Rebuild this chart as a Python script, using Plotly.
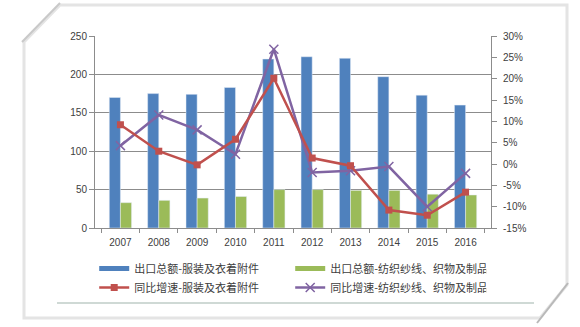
import plotly.graph_objects as go

years = ["2007", "2008", "2009", "2010", "2011", "2012", "2013", "2014", "2015", "2016"]
export_apparel = [170, 175, 174, 183, 220, 223, 221, 197, 173, 160]
export_textile = [33, 36, 39, 41, 50, 50, 49, 49, 44, 43]
growth_apparel = [9.2, 3.0, -0.2, 5.8, 20.1, 1.4, -0.4, -10.8, -12.0, -6.6]
growth_textile = [4.3, 11.5, 8.0, 2.3, 26.9, -2.0, -1.6, -0.6, -10.0, -2.2]

names = ["出口总额-服装及衣着附件", "出口总额-纺织纱线、织物及制品",
         "同比增速-服装及衣着附件", "同比增速-纺织纱线、织物及制品"]
left_ticks = [0, 50, 100, 150, 200, 250]
right_ticks = [-15, -10, -5, 0, 5, 10, 15, 20, 25, 30]
right_ticktext = [f"{v}%" for v in right_ticks]

BLUE = "#4F81BD"
GREEN = "#9BBB59"
RED = "#C0504D"
PURPLE = "#8064A2"
AXIS = "#8c8c8c"
TXT = "#404040"

W, H = 580, 327
L, R, T, B = 95, 89, 36, 99
PW, PH = W - L - R, H - T - B


def px(x):
    return (x - L) / PW


def py(y):
    return (H - B - y) / PH


fig = go.Figure()
fig.add_bar(x=years, y=export_apparel, marker_color=BLUE, name=names[0], showlegend=False)
fig.add_bar(x=years, y=export_textile, marker_color=GREEN, name=names[1], showlegend=False)
fig.add_scatter(x=years, y=growth_textile, yaxis="y2", mode="lines+markers", name=names[3],
                line=dict(color=PURPLE, width=2.5), legendrank=4,
                marker=dict(symbol="x-thin", size=9, line=dict(color=PURPLE, width=1.5), color=PURPLE))
fig.add_scatter(x=years, y=growth_apparel, yaxis="y2", mode="lines+markers", name=names[2],
                line=dict(color=RED, width=2.5), legendrank=3,
                marker=dict(symbol="square", size=7, color=RED))
# legend entries for bars (wide swatches)
fig.add_scatter(x=[None], y=[None], mode="lines", name=names[0], legendrank=1,
                line=dict(color=BLUE, width=5))
fig.add_scatter(x=[None], y=[None], mode="lines", name=names[1], legendrank=2,
                line=dict(color=GREEN, width=5))

shapes = [
    # card
    dict(type="path", xref="paper", yref="paper",
         path=f"M {px(60)},{py(5)} L {px(567)},{py(5)} L {px(567)},{py(285)} L {px(540)},{py(318)} "
              f"L {px(24)},{py(318)} L {px(24)},{py(42)} Z",
         line=dict(color="#e4e4e4", width=3), fillcolor="rgba(0,0,0,0)", layer="below"),
    dict(type="line", xref="paper", yref="paper", x0=px(22), y0=py(42), x1=px(60), y1=py(3),
         line=dict(color="#c9c9c9", width=2)),
    dict(type="line", xref="paper", yref="paper", x0=px(568), y0=py(283), x1=px(537), y1=py(323),
         line=dict(color="#b9b9b9", width=2)),
    # line under legend
    dict(type="line", xref="paper", yref="paper", x0=px(57), y0=py(303), x1=px(534), y1=py(303),
         line=dict(color="#9fb3ab", width=1)),
]

fig.update_layout(
    width=W, height=H,
    margin=dict(l=L, r=R, t=T, b=B, autoexpand=False),
    paper_bgcolor="white", plot_bgcolor="white",
    font=dict(family="Liberation Sans, Arial, sans-serif", size=10, color=TXT),
    barmode="group", bargap=0.42, bargroupgap=0,
    shapes=shapes,
    xaxis=dict(type="category", showgrid=False, showline=True, linecolor=AXIS, linewidth=1,
               ticks="outside", tickson="boundaries", ticklen=4, tickcolor=AXIS,
               ticklabelstandoff=5, tickfont=dict(size=10, color=TXT)),
    yaxis=dict(range=[0, 250], tickvals=left_ticks, showgrid=True, gridcolor=AXIS, gridwidth=1,
               showline=True, linecolor=AXIS, ticks="outside", ticklen=5, tickcolor=AXIS,
               zeroline=False, tickfont=dict(size=10, color=TXT)),
    yaxis2=dict(range=[-15, 30], overlaying="y", side="right", tickvals=right_ticks,
                ticktext=right_ticktext, showgrid=False, showline=True, linecolor=AXIS,
                ticks="outside", ticklen=5, tickcolor=AXIS, zeroline=False,
                ticklabelstandoff=4, tickfont=dict(size=10, color=TXT)),
    legend=dict(orientation="h", x=-0.002, y=py(254), xanchor="left", yanchor="top",
                entrywidth=151, entrywidthmode="pixels", traceorder="normal",
                font=dict(family="Noto Sans CJK SC", size=11, color=TXT),
                bgcolor="rgba(0,0,0,0)", itemwidth=30, tracegroupgap=0),
)

fig.write_html("out.html")
